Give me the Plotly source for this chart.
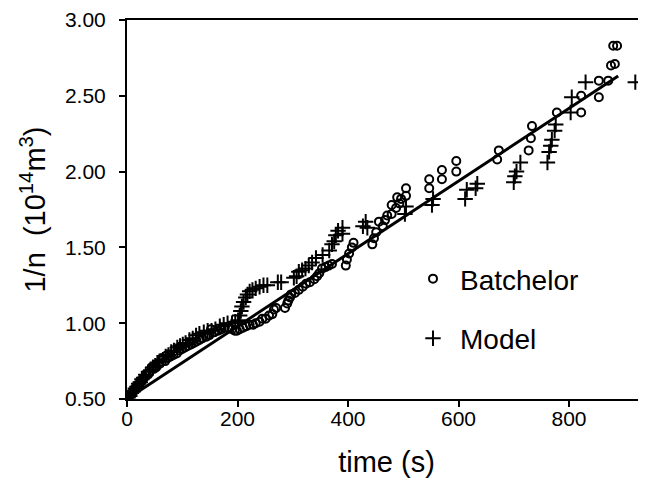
import plotly.graph_objects as go

# ---- data ----
batch_t = [0, 3, 6, 9, 13, 16, 19, 22, 25, 28, 31, 35, 40, 45, 49, 53, 58, 64, 69, 74, 79, 84, 90, 95, 100,
           105, 110, 116, 121, 126, 131, 136, 143, 149, 152, 158, 165, 171, 177, 183, 190, 195,
           199, 204, 210, 216, 222, 228, 233, 240, 245, 251, 257, 263, 266, 270, 286, 290, 292, 295, 297,
           304, 311, 318, 324, 331, 339, 344, 348, 353, 359, 365, 371, 396, 398, 402, 407, 410,
           444, 447, 451, 456, 463, 467, 471, 479, 479, 487, 489, 493, 496, 505, 505,
           547, 547, 570, 570, 596, 596, 670, 673, 727, 731, 733, 778, 822, 822, 854, 854, 871,
           876, 883, 880, 887]
batch_n = [0.50, 0.51, 0.53, 0.54, 0.56, 0.57, 0.59, 0.60, 0.61, 0.63, 0.64, 0.66, 0.67, 0.71, 0.70, 0.71, 0.73,
           0.77, 0.75, 0.77, 0.78, 0.79, 0.80, 0.82, 0.83, 0.84, 0.85, 0.86, 0.87, 0.88, 0.89, 0.90, 0.91,
           0.92, 0.96, 0.94, 0.95, 0.96, 0.97, 0.97, 0.96, 0.95,
           0.95, 0.96, 0.97, 0.98, 0.99, 0.99, 1.00, 1.01, 1.03, 1.03, 1.05, 1.06, 1.09, 1.10, 1.10, 1.13,
           1.15, 1.17, 1.19, 1.20, 1.22, 1.24, 1.26, 1.27, 1.29, 1.31, 1.33, 1.36, 1.37, 1.38, 1.39,
           1.38, 1.42, 1.46, 1.50, 1.53,
           1.52, 1.56, 1.60, 1.67, 1.64, 1.68, 1.71, 1.72, 1.78, 1.76, 1.83, 1.79, 1.82, 1.84, 1.89,
           1.89, 1.95, 1.95, 2.01, 2.00, 2.07, 2.08, 2.14, 2.14, 2.22, 2.30, 2.39, 2.39, 2.50, 2.49,
           2.60, 2.60, 2.70, 2.71, 2.83, 2.83]

model_t = [2, 5, 8, 11, 15, 18, 21, 24, 27, 30, 34, 39, 43, 47, 51, 55, 59, 65, 70, 75, 80, 85, 91, 96, 101,
           106, 113, 119, 125, 131, 139, 146, 153, 160, 168, 175, 182, 190, 196, 201, 204, 206, 208, 211,
           215, 218, 222, 227, 233, 240, 247, 254, 273, 279, 302, 307, 311, 317, 323, 329, 335, 342, 354,
           366, 371, 375, 378, 382, 390, 390, 427, 432, 435, 503, 505, 552, 554, 612, 615, 631, 634,
           700, 702, 705, 712, 761, 764, 767, 769, 774, 776, 803, 805, 830, 920]
model_n = [0.51, 0.52, 0.54, 0.55, 0.57, 0.58, 0.60, 0.61, 0.63, 0.64, 0.66, 0.68, 0.69, 0.71, 0.72, 0.74,
           0.75, 0.76, 0.78, 0.79, 0.81, 0.82, 0.84, 0.85, 0.86, 0.87, 0.89, 0.90, 0.92, 0.93, 0.94, 0.95,
           0.95, 0.96, 0.98, 0.99, 1.00, 1.00, 1.01, 1.02, 1.05, 1.08, 1.11, 1.14, 1.17, 1.19, 1.21, 1.22,
           1.23, 1.24, 1.25, 1.25, 1.27, 1.27, 1.30, 1.31, 1.34, 1.35, 1.36, 1.38, 1.40, 1.43, 1.45, 1.48,
           1.52, 1.54, 1.58, 1.61, 1.59, 1.63, 1.64, 1.67, 1.63, 1.72, 1.77, 1.78, 1.82, 1.82, 1.88, 1.89,
           1.92, 1.93, 1.97, 2.00, 2.06, 2.06, 2.13, 2.17, 2.21, 2.27, 2.31, 2.39, 2.49, 2.59, 2.59]

fit_t = [0, 889]
fit_n = [0.50, 2.63]

y_ticks = [0.5, 1.0, 1.5, 2.0, 2.5, 3.0]
x_ticks = [0, 200, 400, 600, 800]

FONT = "Liberation Sans, Arial, sans-serif"

fig = go.Figure()
fig.add_trace(go.Scatter(x=fit_t, y=fit_n, mode="lines", line=dict(color="black", width=3),
                         showlegend=False, hoverinfo="skip"))
fig.add_trace(go.Scatter(x=batch_t, y=batch_n, mode="markers", name="Batchelor",
                         marker=dict(symbol="circle-open", size=8, color="black",
                                     line=dict(width=2, color="black")),
                         legend="legend"))
fig.add_trace(go.Scatter(x=model_t, y=model_n, mode="markers", name="Model",
                         marker=dict(symbol="cross-thin-open", size=11, color="black",
                                     line=dict(width=2, color="black")),
                         legend="legend2"))

# the page body has an 8 px default margin, so the figure is 8 px smaller
W, H = 638, 485
L, T, B = 119, 9, 94
PW = W - L
PH = H - T - B
LEG_X = (406 - 8 - L) / PW

fig.update_layout(
    width=W, height=H,
    margin=dict(l=L, r=0, t=T, b=B, pad=0),
    paper_bgcolor="white", plot_bgcolor="white",
    font=dict(family=FONT, color="black", size=20),
    legend=dict(x=LEG_X, xanchor="left", y=(PH + T - (278 - 8)) / PH, yanchor="middle",
                itemwidth=44,
                font=dict(size=28, family=FONT), bgcolor="rgba(0,0,0,0)", borderwidth=0),
    legend2=dict(x=LEG_X, xanchor="left", y=(PH + T - (338 - 8)) / PH, yanchor="middle",
                 itemwidth=44,
                 font=dict(size=28, family=FONT), bgcolor="rgba(0,0,0,0)", borderwidth=0),
)
fig.update_xaxes(range=[0, PW / 0.5525], tickvals=x_ticks, ticks="outside", ticklen=6, tickwidth=2,
                 tickcolor="black", showline=True, linewidth=2, linecolor="black", mirror=True,
                 showgrid=False, zeroline=False, tickfont=dict(size=21, family=FONT),
                 ticklabelstandoff=-6, ticklabeloverflow="allow",
                 title=dict(text="time (s)", font=dict(size=29, family=FONT), standoff=22))
fig.update_yaxes(range=[0.5, 3.0], tickvals=y_ticks, tickformat=".2f", ticks="outside", ticklen=6,
                 tickwidth=2, tickcolor="black", showline=True, linewidth=2, linecolor="black",
                 showgrid=False, zeroline=False, tickfont=dict(size=21, family=FONT),
                 ticklabelstandoff=9, ticklabeloverflow="allow",
                 title=dict(text="1/n  (10<sup>14</sup>m<sup>3</sup>)", font=dict(size=29, family=FONT),
                            standoff=11))

fig.write_html("out.html")
